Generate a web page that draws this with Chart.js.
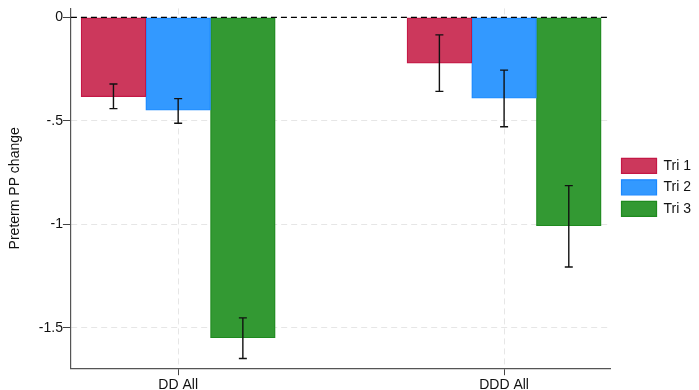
<!DOCTYPE html>
<html>
<head>
<meta charset="utf-8">
<script src="https://cdn.jsdelivr.net/npm/chart.js@4.4.1/dist/chart.umd.min.js"></script>
<style>
html,body{margin:0;padding:0;background:#fff;}
#wrap{width:699px;height:390px;position:relative;}
</style>
</head>
<body>
<div id="wrap"><canvas id="c" width="699" height="390"></canvas></div>
<script>
const categories = ['DD All', 'DDD All'];
const seriesNames = ['Tri 1', 'Tri 2', 'Tri 3'];
const tri1 = [-0.383, -0.221];
const tri2 = [-0.449, -0.391];
const tri3 = [-1.548, -1.007];
const tri1Lo = [-0.441, -0.358];
const tri1Hi = [-0.322, -0.085];
const tri2Lo = [-0.512, -0.529];
const tri2Hi = [-0.393, -0.255];
const tri3Lo = [-1.648, -1.206];
const tri3Hi = [-1.452, -0.813];
const yTicks = [0, -0.5, -1, -1.5];
const yTickLabels = ['0', '-.5', '-1', '-1.5'];

const fills = ['rgba(204,56,92,1)', 'rgba(51,153,255,1)', 'rgba(51,153,51,1)'];
const borders = ['#c41846', '#1a88ff', '#1f8a1f'];
const values = [tri1, tri2, tri3];
const los = [tri1Lo, tri2Lo, tri3Lo];
const his = [tri1Hi, tri2Hi, tri3Hi];

const datasets = values.map((v, i) => ({
  label: seriesNames[i],
  data: v.map((y, j) => ({x: j, y: y})),
  backgroundColor: fills[i],
  borderColor: borders[i],
  borderWidth: 1.2,
  borderSkipped: false,
  barThickness: 64.7,
  errLo: los[i],
  errHi: his[i]
}));

const errorBars = {
  id: 'errorBars',
  afterDatasetsDraw(chart) {
    const ctx = chart.ctx;
    const ys = chart.scales.y;
    ctx.save();
    ctx.strokeStyle = '#111';
    ctx.lineWidth = 1.4;
    chart.data.datasets.forEach((ds, di) => {
      const meta = chart.getDatasetMeta(di);
      meta.data.forEach((bar, j) => {
        const x = bar.x;
        const y1 = ys.getPixelForValue(ds.errLo[j]);
        const y2 = ys.getPixelForValue(ds.errHi[j]);
        ctx.beginPath();
        ctx.moveTo(x, y1); ctx.lineTo(x, y2);
        ctx.moveTo(x - 4, y1); ctx.lineTo(x + 4, y1);
        ctx.moveTo(x - 4, y2); ctx.lineTo(x + 4, y2);
        ctx.stroke();
      });
    });
    const y0 = ys.getPixelForValue(0);
    const ca = chart.chartArea;
    ctx.strokeStyle = '#000';
    ctx.lineWidth = 1.2;
    ctx.setLineDash([6, 4]);
    ctx.beginPath();
    ctx.moveTo(ca.left, y0); ctx.lineTo(ca.right, y0);
    ctx.stroke();
    ctx.restore();
  }
};

new Chart(document.getElementById('c'), {
  type: 'bar',
  data: { datasets: datasets },
  plugins: [errorBars],
  options: {
    responsive: false,
    animation: false,
    layout: { padding: { top: 2, right: -2, left: 6.5, bottom: -6 } },
    plugins: {
      legend: {
        position: 'right',
        align: 'start',
        title: { display: true, text: '', font: { size: 14 }, padding: { top: 0, bottom: 133 } },
        labels: {
          boxWidth: 35,
          boxHeight: 15,
          padding: 6.5,
          color: '#111',
          font: { family: 'Liberation Sans', size: 14 }
        }
      },
      tooltip: { enabled: false }
    },
    scales: {
      x: {
        type: 'linear',
        offset: false,
        min: -0.329,
        max: 1.325,
        afterBuildTicks(scale) { scale.ticks = categories.map((c, i) => ({ value: i })); },
        ticks: {
          callback: (v) => categories[v],
          color: '#111',
          font: { family: 'Liberation Sans', size: 14 },
          padding: 2,
          maxRotation: 0
        },
        grid: {
          offset: false,
          color: '#e6e6e6',
          lineWidth: 1,
          tickColor: '#444',
          tickLength: 7,
          tickBorderDash: [],
          drawTicks: true
        },
        border: { display: true, color: '#555', width: 1.2, dash: [6, 4] }
      },
      y: {
        min: -1.695,
        max: 0.043,
        afterBuildTicks(scale) { scale.ticks = yTicks.map(v => ({ value: v })); },
        ticks: {
          callback: (v) => yTickLabels[yTicks.indexOf(v)],
          color: '#111',
          font: { family: 'Liberation Sans', size: 14 },
          padding: 0
        },
        grid: {
          color: (c) => c.tick && c.tick.value === 0 ? 'rgba(0,0,0,0)' : '#e6e6e6',
          lineWidth: 1,
          tickColor: '#444',
          tickLength: 8,
          tickBorderDash: []
        },
        border: { display: true, color: '#555', width: 1.2, dash: [6, 4] },
        title: {
          display: true,
          text: 'Preterm PP change',
          color: '#111',
          font: { family: 'Liberation Sans', size: 14 },
          padding: { top: 0, bottom: 15.5 }
        }
      },
      gap: {
        type: 'linear',
        position: 'right',
        display: true,
        grid: { display: false, drawTicks: false },
        ticks: { display: false },
        border: { display: false },
        afterFit(scale) { scale.width = 5; }
      }
    }
  }
});
</script>
</body>
</html>
